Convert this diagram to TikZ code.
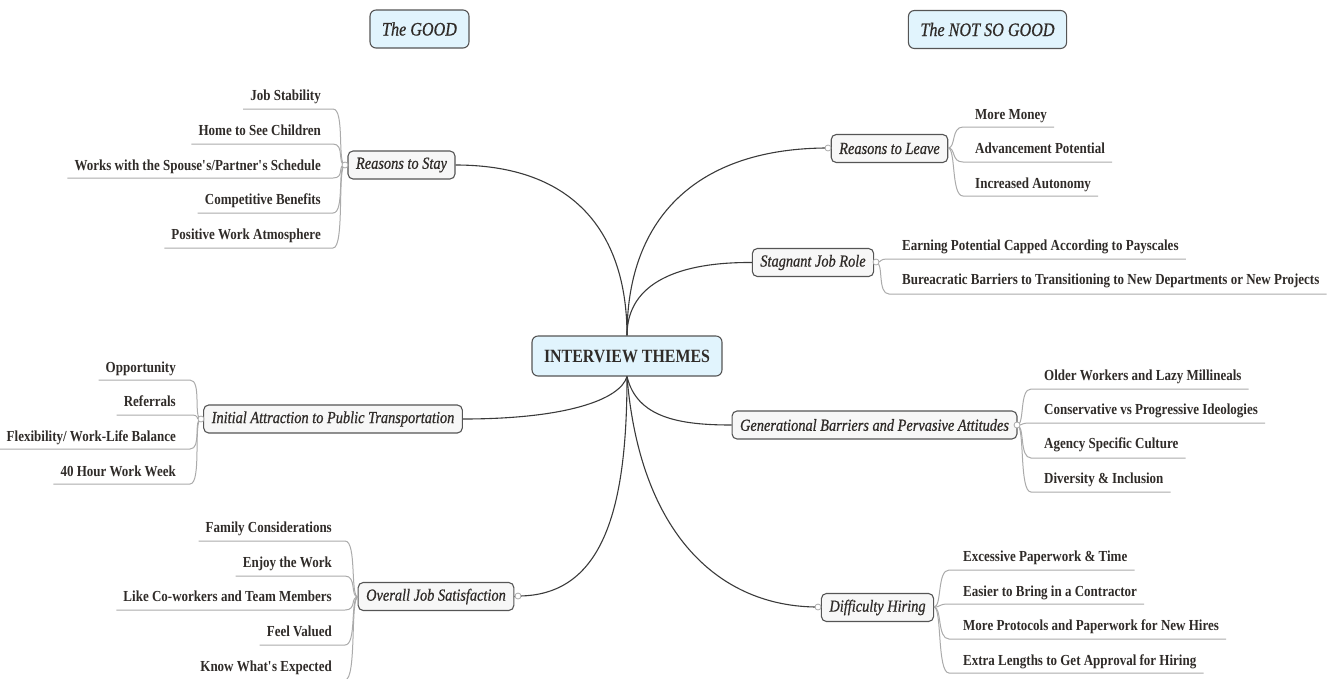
\documentclass[tikz,border=0pt]{standalone}
\usepackage{fontspec}
\setmainfont{Liberation Serif}[FakeStretch=0.85]
\newfontfamily\subfont{Liberation Serif}[FakeStretch=0.85, FakeBold=0.7]
\usetikzlibrary{calc}
\definecolor{txt}{HTML}{2F2B28}
\definecolor{topfill}{HTML}{E1F4FD}
\definecolor{subfill}{HTML}{F7F7F7}
\definecolor{boxdraw}{HTML}{555555}
\definecolor{mainln}{HTML}{3A3A3A}
\definecolor{leafln}{HTML}{ABABAB}
\begin{document}
\begin{tikzpicture}[x=1pt,y=-1pt,
  topbox/.style={draw=boxdraw, fill=topfill, rounded corners=6pt, line width=1.1pt, minimum height=38pt, inner xsep=12pt, inner ysep=0pt, text=txt, font=\subfont\fontsize{19}{22}\selectfont\itshape},
  mainbox/.style={draw=boxdraw, fill=topfill, rounded corners=6pt, line width=1.1pt, minimum height=40pt, inner xsep=12pt, inner ysep=0pt, text=txt, font=\fontsize{18.7}{22}\selectfont\bfseries},
  subbox/.style={draw=boxdraw, fill=subfill, rounded corners=5pt, line width=1.1pt, minimum height=28pt, inner xsep=8pt, inner ysep=0pt, text=txt, font=\subfont\fontsize{16.9}{20}\selectfont\itshape},
  leaf/.style={inner sep=0pt, text=txt, font=\fontsize{15.3}{18}\selectfont\bfseries},
  mainline/.style={draw=mainln, line width=1.1pt},
  leafline/.style={draw=leafln, line width=1pt},
  knob/.style={circle, draw=leafln, fill=white, inner sep=0pt, minimum size=6pt, line width=0.8pt}]
\useasboundingbox (0,0) rectangle (1335,678);

% headers
\node[topbox] (good) at (419.5,29) {The GOOD};
\node[topbox] (notgood) at (987.5,29.5) {The NOT SO GOOD};

% center
\node[mainbox] (ctr) at (627,356) {INTERVIEW THEMES};

% subtopics
\node[subbox] (rs) at (401.5,165) {Reasons to Stay};
\node[subbox] (ia) at (333,419) {Initial Attraction to Public Transportation};
\node[subbox] (oj) at (436,596.5) {Overall Job Satisfaction};
\node[subbox] (rl) at (889.5,148.5) {Reasons to Leave};
\node[subbox] (sj) at (813,262.5) {Stagnant Job Role};
\node[subbox] (gb) at (874.5,425) {Generational Barriers and Pervasive Attitudes};
\node[subbox] (dh) at (877.5,607.5) {Difficulty Hiring};

% junction coordinates
\coordinate (ja) at (345,165);
\coordinate (jb) at (201,419);
\coordinate (jc) at (358,597);
\coordinate (jd) at (948,148);
\coordinate (je) at (876,262);
\coordinate (jf) at (1017,425);
\coordinate (jg) at (934,607);
\coordinate (krl) at (828,148);
\coordinate (koj) at (518,596);
\coordinate (kdh) at (818,607);

% main connectors
\draw[mainline] (rs.east) .. controls (585,165) and (627,245) .. (ctr.north);
\draw[mainline] (ctr.north) .. controls (627,215) and (700,148) .. (krl);
\draw[mainline] (ctr.north) .. controls (627,282) and (680,262) .. (sj.west);
\draw[mainline] (ia.east) .. controls (565,419) and (620,400) .. (ctr.south);
\draw[mainline] (ctr.south) .. controls (637,418) and (680,425) .. (gb.west);
\draw[mainline] (ctr.south) .. controls (627,505) and (605,596) .. (koj);
\draw[mainline] (ctr.south) .. controls (640,535) and (720,607) .. (kdh);
\draw[mainline] (krl) -- (rl.west);
\draw[mainline] (koj) -- (oj.east);
\draw[mainline] (kdh) -- (dh.west);

% left leaves: Reasons to Stay
\foreach \tx/\ty/\uy [count=\i] in {{Job Stability}/95/109, {Home to See Children}/130/144, {Works with the Spouse\textquotesingle s/Partner\textquotesingle s Schedule}/165/178, {Competitive Benefits}/199/213, {Positive Work Atmosphere}/234/248}{
  \node[leaf, anchor=base east] (a\i) at (321,\ty+5) {\tx};
  \coordinate (au\i) at (333,\uy);
  \draw[leafline] (ja) .. controls ($(ja)+(-8,0)$) and ($(au\i)+(12,0)$) .. (au\i) -- (a\i.west |- au\i) -- ++(-7,0);
}
% left leaves: Initial Attraction
\foreach \tx/\ty/\uy [count=\i] in {{Opportunity}/367/380, {Referrals}/401/415, {Flexibility/ Work-Life Balance}/436/449, {40 Hour Work Week}/471/484}{
  \node[leaf, anchor=base east] (b\i) at (176,\ty+5) {\tx};
  \coordinate (bu\i) at (190,\uy);
  \draw[leafline] (jb) .. controls ($(jb)+(-8,0)$) and ($(bu\i)+(12,0)$) .. (bu\i) -- (b\i.west |- bu\i) -- ++(-7,0);
}
% left leaves: Overall Job Satisfaction
\foreach \tx/\ty/\uy [count=\i] in {{Family Considerations}/527/541, {Enjoy the Work}/562/576, {Like Co-workers and Team Members}/596/610, {Feel Valued}/631/645, {Know What\textquotesingle s Expected}/666/680}{
  \node[leaf, anchor=base east] (c\i) at (332,\ty+5) {\tx};
  \coordinate (cu\i) at (345,\uy);
  \draw[leafline] (jc) .. controls ($(jc)+(-8,0)$) and ($(cu\i)+(12,0)$) .. (cu\i) -- (c\i.west |- cu\i) -- ++(-7,0);
}
% right leaves: Reasons to Leave
\foreach \tx/\ty/\uy [count=\i] in {{More Money}/114/127, {Advancement Potential}/148/162, {Increased Autonomy}/183/196}{
  \node[leaf, anchor=base west] (d\i) at (975,\ty+5) {\tx};
  \coordinate (du\i) at (963,\uy);
  \draw[leafline] (jd) .. controls ($(jd)+(8,0)$) and ($(du\i)+(-12,0)$) .. (du\i) -- (d\i.east |- du\i) -- ++(7,0);
}
% right leaves: Stagnant Job Role
\foreach \tx/\ty/\uy [count=\i] in {{Earning Potential Capped According to Payscales}/245/259, {Bureacratic Barriers to Transitioning to New Departments or New Projects}/279/294}{
  \node[leaf, anchor=base west] (e\i) at (902,\ty+5) {\tx};
  \coordinate (eu\i) at (889,\uy);
  \draw[leafline] (je) .. controls ($(je)+(8,0)$) and ($(eu\i)+(-12,0)$) .. (eu\i) -- (e\i.east |- eu\i) -- ++(7,0);
}
% right leaves: Generational
\foreach \tx/\ty/\uy [count=\i] in {{Older Workers and Lazy Millineals}/375/389, {Conservative vs Progressive Ideologies}/409/423, {Agency Specific Culture}/443/458, {Diversity \& Inclusion}/478/492}{
  \node[leaf, anchor=base west] (f\i) at (1044,\ty+5) {\tx};
  \coordinate (fu\i) at (1031,\uy);
  \draw[leafline] (jf) .. controls ($(jf)+(8,0)$) and ($(fu\i)+(-12,0)$) .. (fu\i) -- (f\i.east |- fu\i) -- ++(7,0);
}
% right leaves: Difficulty Hiring
\foreach \tx/\ty/\uy [count=\i] in {{Excessive Paperwork \& Time}/556/570, {Easier to Bring in a Contractor}/591/604, {More Protocols and Paperwork for New Hires}/625/639, {Extra Lengths to Get Approval for Hiring}/660/673}{
  \node[leaf, anchor=base west] (g\i) at (963,\ty+5) {\tx};
  \coordinate (gu\i) at (949,\uy);
  \draw[leafline] (jg) .. controls ($(jg)+(8,0)$) and ($(gu\i)+(-12,0)$) .. (gu\i) -- (g\i.east |- gu\i) -- ++(7,0);
}

% knobs
\node[knob] (kna) at (ja) {};
\node[knob] (knb) at (jb) {};
\node[knob] (kne) at (je) {};
\node[knob] (knf) at (jf) {};
\node[knob] (knrl) at (krl) {};
\node[knob] (knoj) at (koj) {};
\node[knob] (kndh) at (kdh) {};
\end{tikzpicture}
\end{document}
